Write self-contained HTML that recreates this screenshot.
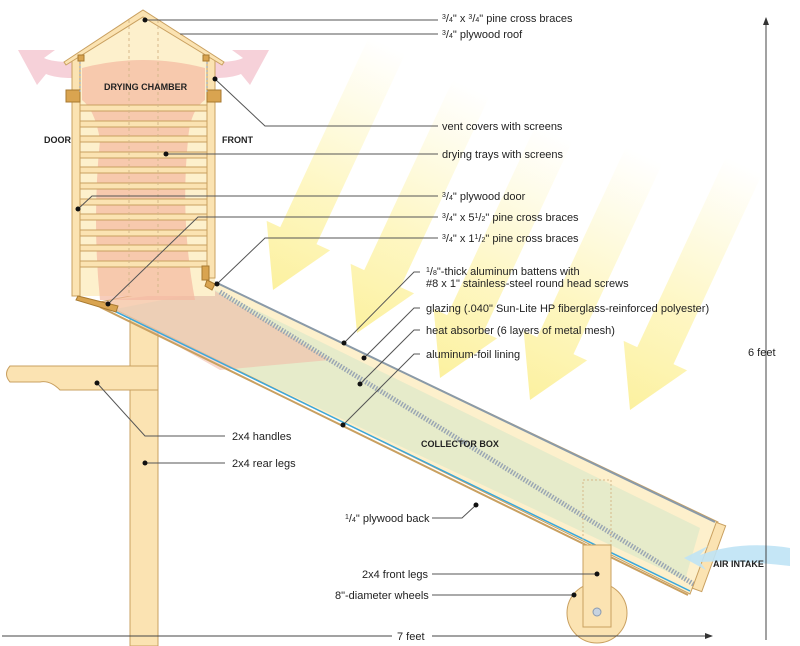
<!DOCTYPE html>
<html><head><meta charset="utf-8"><style>
html,body{margin:0;padding:0;background:#fff;}
svg{display:block;font-family:"Liberation Sans",sans-serif;}
.l{font-size:11px;fill:#222;}
.b{font-size:9px;font-weight:bold;fill:#222;}
.ld{stroke:#555;stroke-width:1;fill:none;}
</style></head><body>
<svg width="800" height="646" viewBox="0 0 800 646">
<defs>
<linearGradient id="sun" gradientUnits="userSpaceOnUse" x1="0" y1="-270" x2="0" y2="0">
<stop offset="0" stop-color="#fdf3b0" stop-opacity="0"/>
<stop offset="0.6" stop-color="#fdf3a8" stop-opacity="0.7"/>
<stop offset="1" stop-color="#fcf09a" stop-opacity="0.95"/>
</linearGradient>
<marker id="ah" markerWidth="8" markerHeight="8" refX="7" refY="4" orient="auto"><path d="M0,1 L8,4 L0,7z" fill="#333"/></marker>
<polygon id="arr" points="0,0 -35,-60 -20,-60 -20,-270 20,-270 20,-60 35,-60"/>
</defs>
<!-- sun arrows -->
<g fill="url(#sun)">
<use href="#arr" transform="translate(273,290) rotate(25)"/>
<use href="#arr" transform="translate(357,333) rotate(25)"/>
<use href="#arr" transform="translate(440,378) rotate(25)"/>
<use href="#arr" transform="translate(530,400) rotate(25)"/>
<use href="#arr" transform="translate(630,410) rotate(25)"/>
</g>
<!-- pink vent arrows -->
<path d="M72,62 Q52,62 44,58 L55,50 L18,50 L37,85 L46,74 Q56,78 72,78z" fill="#f5c9d2" opacity="0.85"/>
<path d="M215,62 Q235,62 243,58 L232,50 L269,50 L250,85 L241,74 Q231,78 215,78z" fill="#f5c9d2" opacity="0.85"/>
<!-- rear leg -->
<rect x="130" y="292" width="28" height="354" fill="#fbe3b2" stroke="#c9a060" stroke-width="1"/>
<!-- handle -->
<path d="M10,366 L158,366 L158,390 L60,390 Q50,380 40,382 L10,382 Q3,374 10,366z" fill="#fbe3b2" stroke="#c9a060"/>
<!-- collector box -->
<polygon points="210,280 718,522 690,594 100,302" fill="#fdf0cc" stroke="#c9a060"/>
<polygon points="215,290 700,528 685,580 110,310" fill="#cfe6c8" opacity="0.5"/>
<polygon points="100,302 210,288 330,360 220,370" fill="#f3b8a5" opacity="0.55"/>
<line x1="215" y1="282" x2="715" y2="522" stroke="#8a9aa8" stroke-width="2"/>
<line x1="220" y1="292" x2="695" y2="585" stroke="#9aa6b3" stroke-width="5" stroke-dasharray="1.5 1.5"/>
<line x1="100" y1="304" x2="690" y2="591" stroke="#3aa8dc" stroke-width="1.5"/>
<line x1="100" y1="307" x2="688" y2="595" stroke="#c9a060" stroke-width="2"/>
<rect x="704" y="522" width="10" height="70" fill="#fbe3b2" stroke="#c9a060" transform="rotate(20 709 557)"/>
<rect x="583" y="480" width="28" height="70" fill="none" stroke="#d6b88a" stroke-dasharray="2 2"/>
<!-- air intake -->
<path d="M790,548 Q740,540 700,555 L708,546 L684,558 L706,570 L700,562 Q740,560 790,566z" fill="#bfe3f5" opacity="0.9"/>
<!-- wheel + front leg -->
<circle cx="597" cy="613" r="30" fill="#fbe3b2" stroke="#c9a060"/>
<rect x="583" y="545" width="28" height="82" fill="#fbe3b2" stroke="#c9a060"/>
<circle cx="597" cy="612" r="4" fill="#c7d3e0" stroke="#8a9ab0"/>
<!-- chamber -->
<polygon points="72,58 143,14 215,58 215,296 72,296" fill="#fdf0cc"/>
<path d="M82,68 Q143,52 205,68 L205,100 Q190,110 188,140 Q180,220 195,300 L100,300 Q92,220 100,140 Q95,110 82,100z" fill="#f4b8a0" opacity="0.7"/>
<rect x="72" y="58" width="8" height="238" fill="#fbe3b2" stroke="#c9a060"/>
<rect x="207" y="58" width="8" height="220" fill="#fbe3b2" stroke="#c9a060"/>
<path d="M64,62 L143,10 L224,62 L222,65 L143,17 L66,65z" fill="#fbe3b2" stroke="#c9a060"/>
<g fill="#fbe3b2" stroke="#c9a060">
<rect x="80" y="105" width="127" height="6"/><rect x="80" y="121" width="127" height="6"/><rect x="80" y="136" width="127" height="6"/>
<rect x="80" y="152" width="127" height="6"/><rect x="80" y="167" width="127" height="6"/><rect x="80" y="183" width="127" height="6"/>
<rect x="80" y="199" width="127" height="6"/><rect x="80" y="214" width="127" height="6"/><rect x="80" y="230" width="127" height="6"/>
<rect x="80" y="245" width="127" height="6"/><rect x="80" y="261" width="127" height="6"/>
</g>
<g fill="#d9a450" stroke="#a87a30">
<rect x="66" y="90" width="14" height="12"/><rect x="207" y="90" width="14" height="12"/>
<rect x="78" y="55" width="6" height="6"/><rect x="203" y="55" width="6" height="6"/>
<rect x="202" y="266" width="7" height="14"/>
<polygon points="78,296 118,306 116,312 76,300"/>
<polygon points="207,280 215,284 212,290 205,286"/>
</g>
<line x1="80" y1="62" x2="80" y2="92" stroke="#8a9ab0" stroke-dasharray="2 2"/>
<line x1="207" y1="62" x2="207" y2="92" stroke="#8a9ab0" stroke-dasharray="2 2"/>
<line x1="129" y1="20" x2="129" y2="296" stroke="#d6b88a" stroke-dasharray="3 3"/>
<line x1="158" y1="20" x2="158" y2="296" stroke="#d6b88a" stroke-dasharray="3 3"/>
<text class="b" x="104" y="90">DRYING CHAMBER</text>
<text class="b" x="44" y="143">DOOR</text>
<text class="b" x="222" y="143">FRONT</text>
<text class="b" x="421" y="447">COLLECTOR BOX</text>
<text class="b" x="713" y="567">AIR INTAKE</text>
<!-- leaders -->
<g class="ld">
<path d="M145,20 L438,20"/><path d="M180,34 L438,34"/>
<path d="M215,79 L265,126 L438,126"/><path d="M166,154 L438,154"/>
<path d="M78,209 L92,196 L438,196"/><path d="M108,304 L198,217 L438,217"/>
<path d="M217,284 L265,238 L438,238"/>
<path d="M344,343 L414,272 L420,272"/><path d="M364,358 L414,308 L420,308"/>
<path d="M360,384 L414,330 L420,330"/><path d="M343,425 L414,354 L420,354"/>
<path d="M97,383 L145,436 L225,436"/><path d="M145,463 L225,463"/>
<path d="M432,518 L462,518 L476,505"/>
<path d="M432,574 L597,574"/><path d="M432,595 L574,595"/>
</g>
<g fill="#111">
<circle cx="145" cy="20" r="2.5"/><circle cx="215" cy="79" r="2.5"/><circle cx="166" cy="154" r="2.5"/>
<circle cx="78" cy="209" r="2.5"/><circle cx="108" cy="304" r="2.5"/><circle cx="217" cy="284" r="2.5"/>
<circle cx="344" cy="343" r="2.5"/><circle cx="364" cy="358" r="2.5"/><circle cx="360" cy="384" r="2.5"/>
<circle cx="343" cy="425" r="2.5"/><circle cx="97" cy="383" r="2.5"/><circle cx="145" cy="463" r="2.5"/>
<circle cx="476" cy="505" r="2.5"/><circle cx="597" cy="574" r="2.5"/><circle cx="574" cy="595" r="2.5"/>
</g>
<g class="l">
<text x="442" y="22"><tspan font-size="7" dy="-3">3</tspan><tspan dy="3">/</tspan><tspan font-size="7">4</tspan>" x <tspan font-size="7" dy="-3">3</tspan><tspan dy="3">/</tspan><tspan font-size="7">4</tspan>" pine cross braces</text>
<text x="442" y="38"><tspan font-size="7" dy="-3">3</tspan><tspan dy="3">/</tspan><tspan font-size="7">4</tspan>" plywood roof</text>
<text x="442" y="130">vent covers with screens</text>
<text x="442" y="158">drying trays with screens</text>
<text x="442" y="200"><tspan font-size="7" dy="-3">3</tspan><tspan dy="3">/</tspan><tspan font-size="7">4</tspan>" plywood door</text>
<text x="442" y="221"><tspan font-size="7" dy="-3">3</tspan><tspan dy="3">/</tspan><tspan font-size="7">4</tspan>" x 5<tspan font-size="7" dy="-3">1</tspan><tspan dy="3">/</tspan><tspan font-size="7">2</tspan>" pine cross braces</text>
<text x="442" y="242"><tspan font-size="7" dy="-3">3</tspan><tspan dy="3">/</tspan><tspan font-size="7">4</tspan>" x 1<tspan font-size="7" dy="-3">1</tspan><tspan dy="3">/</tspan><tspan font-size="7">2</tspan>" pine cross braces</text>
<text x="426" y="275"><tspan font-size="7" dy="-3">1</tspan><tspan dy="3">/</tspan><tspan font-size="7">8</tspan>"-thick aluminum battens with</text>
<text x="426" y="287">#8 x 1" stainless-steel round head screws</text>
<text x="426" y="312">glazing (.040" Sun-Lite HP fiberglass-reinforced polyester)</text>
<text x="426" y="334">heat absorber (6 layers of metal mesh)</text>
<text x="426" y="358">aluminum-foil lining</text>
<text x="232" y="440">2x4 handles</text>
<text x="232" y="467">2x4 rear legs</text>
<text x="345" y="522"><tspan font-size="7" dy="-3">1</tspan><tspan dy="3">/</tspan><tspan font-size="7">4</tspan>" plywood back</text>
<text x="362" y="578">2x4 front legs</text>
<text x="335" y="599">8"-diameter wheels</text>
<text x="397" y="640">7 feet</text>
<text x="748" y="356">6 feet</text>
</g>
<line x1="2" y1="636" x2="392" y2="636" stroke="#444"/>
<line x1="432" y1="636" x2="712" y2="636" stroke="#444" marker-end="url(#ah)"/>
<line x1="766" y1="640" x2="766" y2="18" stroke="#444" marker-end="url(#ah)"/>
</svg>
</body></html>
